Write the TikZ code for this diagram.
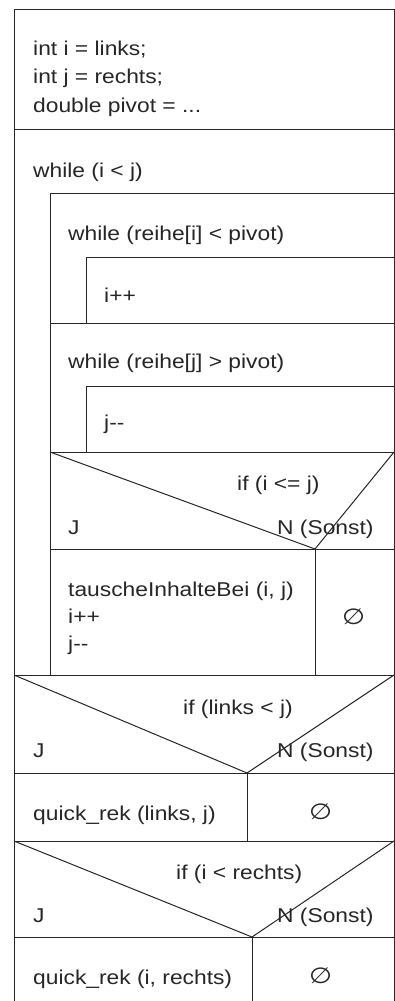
\documentclass[tikz,border=0pt]{standalone}
\usepackage{fontspec}
\setmainfont{Liberation Sans}[FakeStretch=1.14]
\newfontfamily\symfont{DejaVu Sans}
\newcommand{\dm}{-\kern0pt-}
\begin{document}
\begin{tikzpicture}[x=1pt,y=-1pt,
  frame/.style={draw=black!85, line width=1pt},
  lbl/.style={anchor=base west, inner sep=0pt, font=\fontsize{20}{24}\selectfont, text=black!85},
  nil/.style={inner sep=0pt, xscale=1.2, font=\symfont\fontsize{22}{26}\selectfont, text=black!85}]
\useasboundingbox (0,0) rectangle (395,1001);
% corner coordinates
\coordinate (v1) at (315,549);
\coordinate (v2) at (247,773);
\coordinate (v3) at (252,937);
% outer frame
\draw[frame] (14,1001) -- (14,9) -- (394,9) -- (394,1001);
\draw[frame] (14,129) -- (394,129);
% while (i<j) body
\draw[frame] (50,675) -- (50,193) -- (394,193);
\draw[frame] (86,323) -- (86,257) -- (394,257);
\draw[frame] (50,323) -- (394,323);
\draw[frame] (86,452) -- (86,386) -- (394,386);
\draw[frame] (50,452) -- (394,452);
\draw[frame] (50,452) -- (v1) -- (394,452);
\draw[frame] (50,549) -- (394,549);
\draw[frame] (v1) -- (315,675);
\draw[frame] (14,675) -- (394,675);
% if (links < j)
\draw[frame] (14,675) -- (v2) -- (394,675);
\draw[frame] (14,773) -- (394,773);
\draw[frame] (v2) -- (247,841);
\draw[frame] (14,841) -- (394,841);
% if (i < rechts)
\draw[frame] (14,841) -- (v3) -- (394,841);
\draw[frame] (14,937) -- (394,937);
\draw[frame] (v3) -- (252,1001);
% texts
\node[lbl] (d1) at (33,55) {int i = links;};
\node[lbl] (d2) at (33,83.5) {int j = rechts;};
\node[lbl] (d3) at (33,112) {double pivot = ...};
\node[lbl] (w1) at (33,177) {while (i < j)};
\node[lbl] (w2) at (68,240) {while (reihe[i] < pivot)};
\node[lbl] (s1) at (104,302) {i++};
\node[lbl] (w3) at (68,368) {while (reihe[j] > pivot)};
\node[lbl] (s2) at (104,429) {j\dm};
\node[lbl] (c1) at (237,490) {if (i <= j)};
\node[lbl] (j1) at (68,534) {J};
\node[lbl] (n1) at (277,534) {N (Sonst)};
\node[lbl] (t1) at (68,596) {tauscheInhalteBei (i, j)};
\node[lbl] (t2) at (68,623) {i++};
\node[lbl] (t3) at (68,650) {j\dm};
\node[nil] (e1) at (353.5,617) {∅};
\node[lbl] (c2) at (183,714) {if (links < j)};
\node[lbl] (j2) at (33,757) {J};
\node[lbl] (n2) at (277,757) {N (Sonst)};
\node[lbl] (q1) at (33,820) {quick\_rek (links, j)};
\node[nil] (e2) at (320.5,812) {∅};
\node[lbl] (c3) at (176,879) {if (i < rechts)};
\node[lbl] (j3) at (33,922) {J};
\node[lbl] (n3) at (277,922) {N (Sonst)};
\node[lbl] (q2) at (33,984) {quick\_rek (i, rechts)};
\node[nil] (e3) at (320.5,976) {∅};
\end{tikzpicture}
\end{document}
